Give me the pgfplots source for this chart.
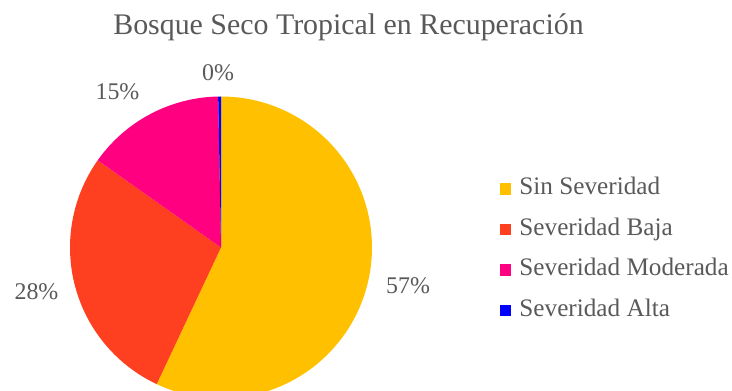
\documentclass[border=0pt]{standalone}
\usepackage{fontspec}
\setmainfont{Liberation Serif}
\usepackage{pgfplots}
\pgfplotsset{compat=1.18}
\definecolor{cA}{HTML}{FFC000}
\definecolor{cB}{HTML}{FF4020}
\definecolor{cC}{HTML}{FF0080}
\definecolor{cD}{HTML}{0000FF}
\definecolor{txt}{HTML}{595959}
% percentages of each category
\def\vA{57.0}
\def\vB{27.8}
\def\vC{14.9}
\def\vD{0.3}
\pgfmathsetmacro{\aA}{90}
\pgfmathsetmacro{\aB}{90-3.6*\vA}
\pgfmathsetmacro{\aC}{\aB-3.6*\vB}
\pgfmathsetmacro{\aD}{\aC-3.6*\vC}
\pgfmathsetmacro{\aE}{\aD-3.6*\vD}
\def\cx{221}
\def\cy{143.5}
\def\rr{151}
\begin{document}
\begin{tikzpicture}
\path[use as bounding box] (0,0) rectangle (732bp,391bp);
\begin{axis}[
  at={(0,0)}, anchor=south west,
  scale only axis, width=732bp, height=391bp,
  xmin=0, xmax=732, ymin=0, ymax=391,
  hide axis,
  legend cell align=left,
  legend image code/.code={\fill[#1,draw=none] (0bp,-5.75bp) rectangle (11.5bp,5.75bp);},
  legend style={at={(0.683,0.5448)}, anchor=north west, draw=none, fill=none,
    inner sep=0pt, outer sep=0pt, column sep=8bp, row sep=18.5bp,
    font=\fontsize{25.3}{29}\selectfont, text=txt,
    nodes={inner sep=0pt, text height=17bp, text depth=5bp}},
]
\addplot[fill=cA, draw=none, domain=\aB:\aA, samples=90, variable=\t]
  ({\cx+\rr*cos(\t)},{\cy+\rr*sin(\t)}) -- (axis cs:\cx,\cy) -- cycle;
\addlegendentry{Sin Severidad}
\addplot[fill=cB, draw=none, domain=\aC:\aB, samples=60, variable=\t]
  ({\cx+\rr*cos(\t)},{\cy+\rr*sin(\t)}) -- (axis cs:\cx,\cy) -- cycle;
\addlegendentry{Severidad Baja}
\addplot[fill=cC, draw=none, domain=\aD:\aC, samples=40, variable=\t]
  ({\cx+\rr*cos(\t)},{\cy+\rr*sin(\t)}) -- (axis cs:\cx,\cy) -- cycle;
\addlegendentry{Severidad Moderada}
\addplot[fill=cD, draw=none, domain=\aE:\aD, samples=5, variable=\t]
  ({\cx+\rr*cos(\t)},{\cy+\rr*sin(\t)}) -- (axis cs:\cx,\cy) -- cycle;
\addlegendentry{Severidad Alta}
\node[text=txt, font=\fontsize{30}{36}\selectfont] at (axis cs:348.5,364) {Bosque Seco Tropical en Recuperación};
\node[text=txt, font=\fontsize{24}{28}\selectfont] at (axis cs:218,318) {0\%};
\node[text=txt, font=\fontsize{24}{28}\selectfont] at (axis cs:117.5,299.5) {15\%};
\node[text=txt, font=\fontsize{24}{28}\selectfont] at (axis cs:36.5,99.5) {28\%};
\node[text=txt, font=\fontsize{24}{28}\selectfont] at (axis cs:408,105) {57\%};
\end{axis}
\end{tikzpicture}
\end{document}
